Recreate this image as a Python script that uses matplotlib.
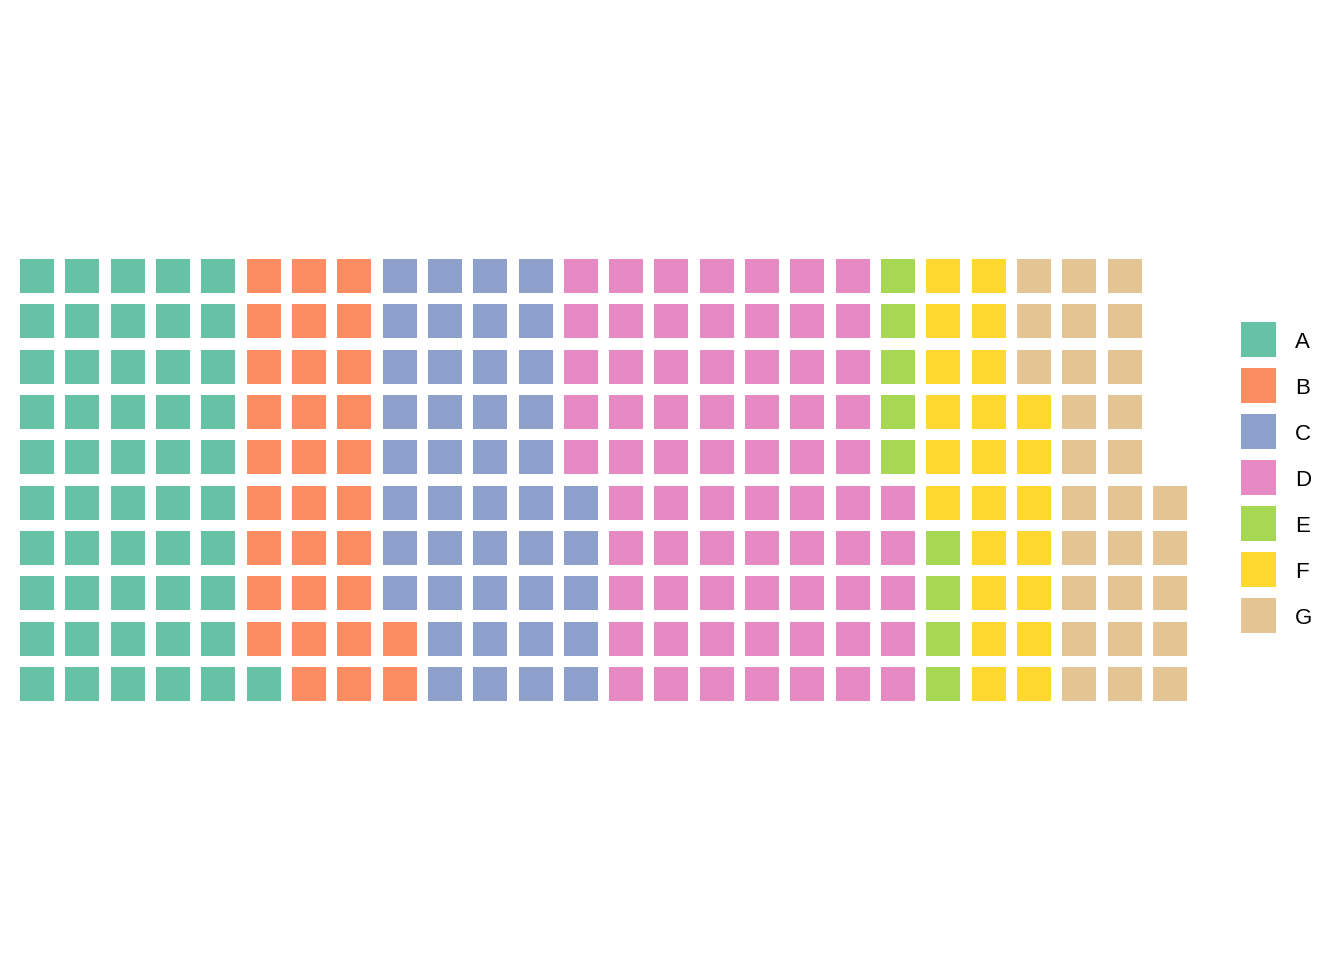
import numpy as np
import matplotlib
matplotlib.use('Agg')
import matplotlib.pyplot as plt
from matplotlib.patches import Rectangle

# waffle data: counts per group, filled column by column from the bottom
categories = ['A', 'B', 'C', 'D', 'E', 'F', 'G']
counts = [51, 31, 43, 70, 9, 23, 28]
colors = ['#66C2A5', '#FC8D62', '#8DA0CB', '#E78AC3', '#A6D854', '#FFD92F', '#E5C494']

n_rows = 10
n_cols = int(np.ceil(sum(counts) / n_rows))
tile = 0.75

fig = plt.figure(figsize=(13.44, 9.6), dpi=100)
ax = fig.add_axes([14.34 / 1344, 253.34 / 960, 1178.3 / 1344, 453.3 / 960])

k = 0
for cat, n, c in zip(categories, counts, colors):
    for _ in range(n):
        col = k // n_rows + 1
        row = k % n_rows + 1
        ax.add_patch(Rectangle((col - tile / 2, row - tile / 2), tile, tile,
                               facecolor=c, edgecolor='none'))
        k += 1

ax.set_xlim(0.5, n_cols + 0.5)
ax.set_ylim(0.5, n_rows + 0.5)
ax.set_aspect('equal')
ax.axis('off')

# legend drawn in pixel coordinates on an overlay axes
lax = fig.add_axes([0, 0, 1, 1])
lax.set_xlim(0, 1344)
lax.set_ylim(960, 0)
lax.axis('off')
for i, (cat, c) in enumerate(zip(categories, colors)):
    y0 = 322 + i * 46
    lax.add_patch(Rectangle((1241, y0), 35, 35, facecolor=c, edgecolor='none'))
    lax.text(1295, y0 + 20, cat, fontsize=16, family='Liberation Sans',
             va='center', ha='left', color='black')

fig.savefig('out.png', dpi=100, facecolor='white')
